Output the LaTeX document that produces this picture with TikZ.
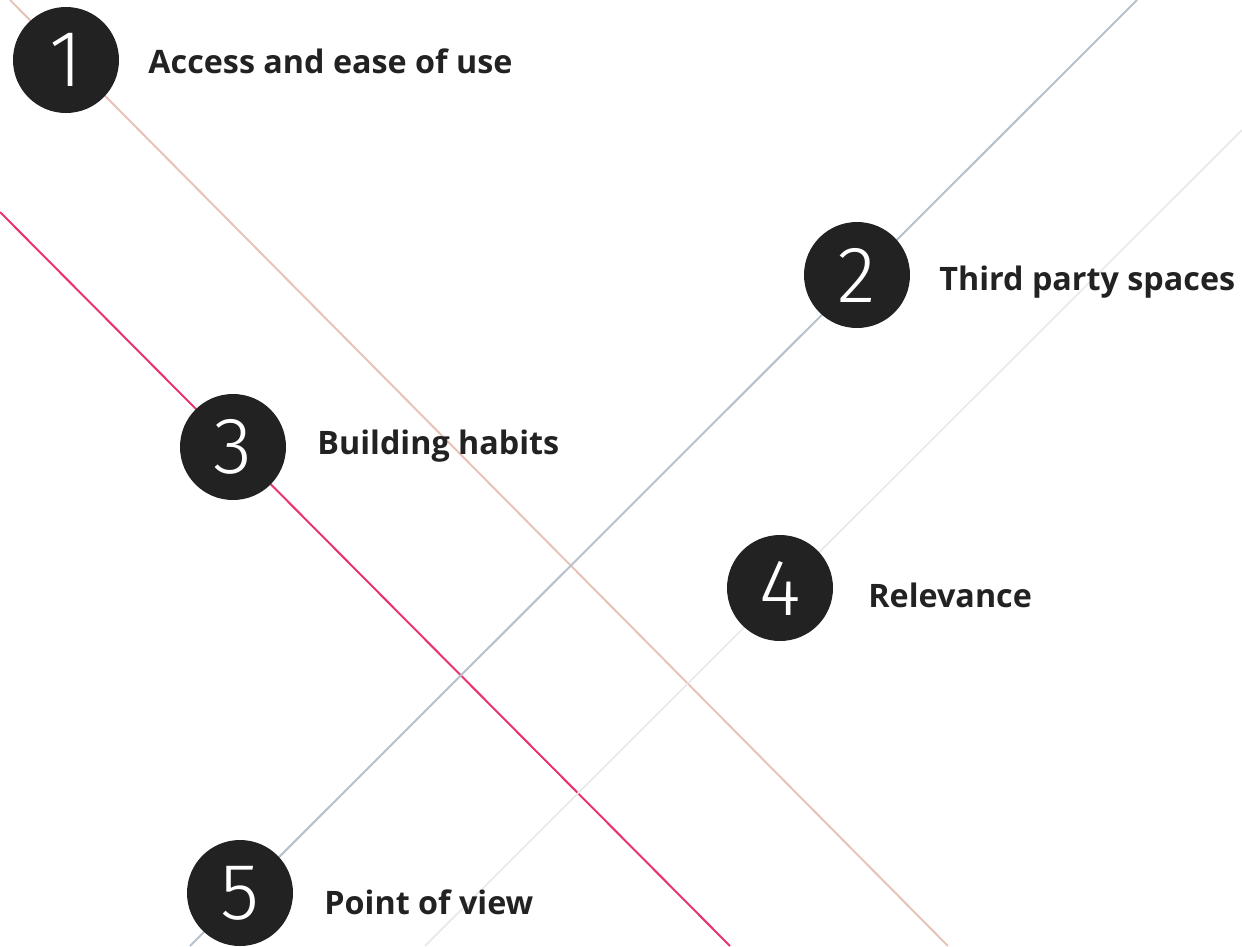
\documentclass[tikz,border=0pt]{standalone}
\usepackage{fontspec}
\setmainfont{Open Sans}
\newfontfamily\numfont{Fira Sans Light}
\usepackage{tikz}
\usetikzlibrary{positioning}

\definecolor{ink}{HTML}{222222}
\definecolor{peach}{HTML}{E8C3B9}
\definecolor{rose}{HTML}{E8336F}
\definecolor{slate}{HTML}{B6C1CB}
\definecolor{mist}{HTML}{E6E7EB}

\tikzset{
  num/.style={circle, fill=ink, text=white, minimum size=106pt, inner sep=0pt,
    font=\numfont\fontsize{80}{80}\selectfont},
  lbl/.style={text=ink, inner sep=0pt, font=\bfseries\fontsize{32.3}{32}\selectfont},
  stripe/.style={line width=2pt}
}

\begin{document}
\begin{tikzpicture}[x=1pt,y=-1pt]
\useasboundingbox (0,0) rectangle (1242,946);

\coordinate (peachA) at (10,0);
\coordinate (peachB) at (948,946);
\coordinate (roseA) at (0,212);
\coordinate (roseB) at (730,946);
\coordinate (slateA) at (1137,0);
\coordinate (slateB) at (190,946);
\coordinate (mistA) at (1242,130);
\coordinate (mistB) at (425,946);

\draw [stripe, peach] (peachA) -- (peachB);
\draw [stripe, rose] (roseA) -- (roseB);
\draw [stripe, slate] (slateA) -- (slateB);
\draw [stripe, mist, line width=1.5pt] (mistA) -- (mistB);

\node [num] (n1) at (66,60) {1};
\node [num] (n2) at (857,275) {2};
\node [num] (n3) at (233,447) {3};
\node [num] (n4) at (780,588) {4};
\node [num] (n5) at (240,893) {5};

\node [lbl, right=29pt of n1, yshift=-1pt] (l1) {Access and ease of use};
\node [lbl, right=29pt of n2, yshift=-7pt] (l2) {Third party spaces};
\node [lbl, right=31pt of n3, yshift=1pt] (l3) {Building habits};
\node [lbl, right=35pt of n4, yshift=-7pt] (l4) {Relevance};
\node [lbl, right=31pt of n5, yshift=-9pt] (l5) {Point of view};
\end{tikzpicture}
\end{document}
